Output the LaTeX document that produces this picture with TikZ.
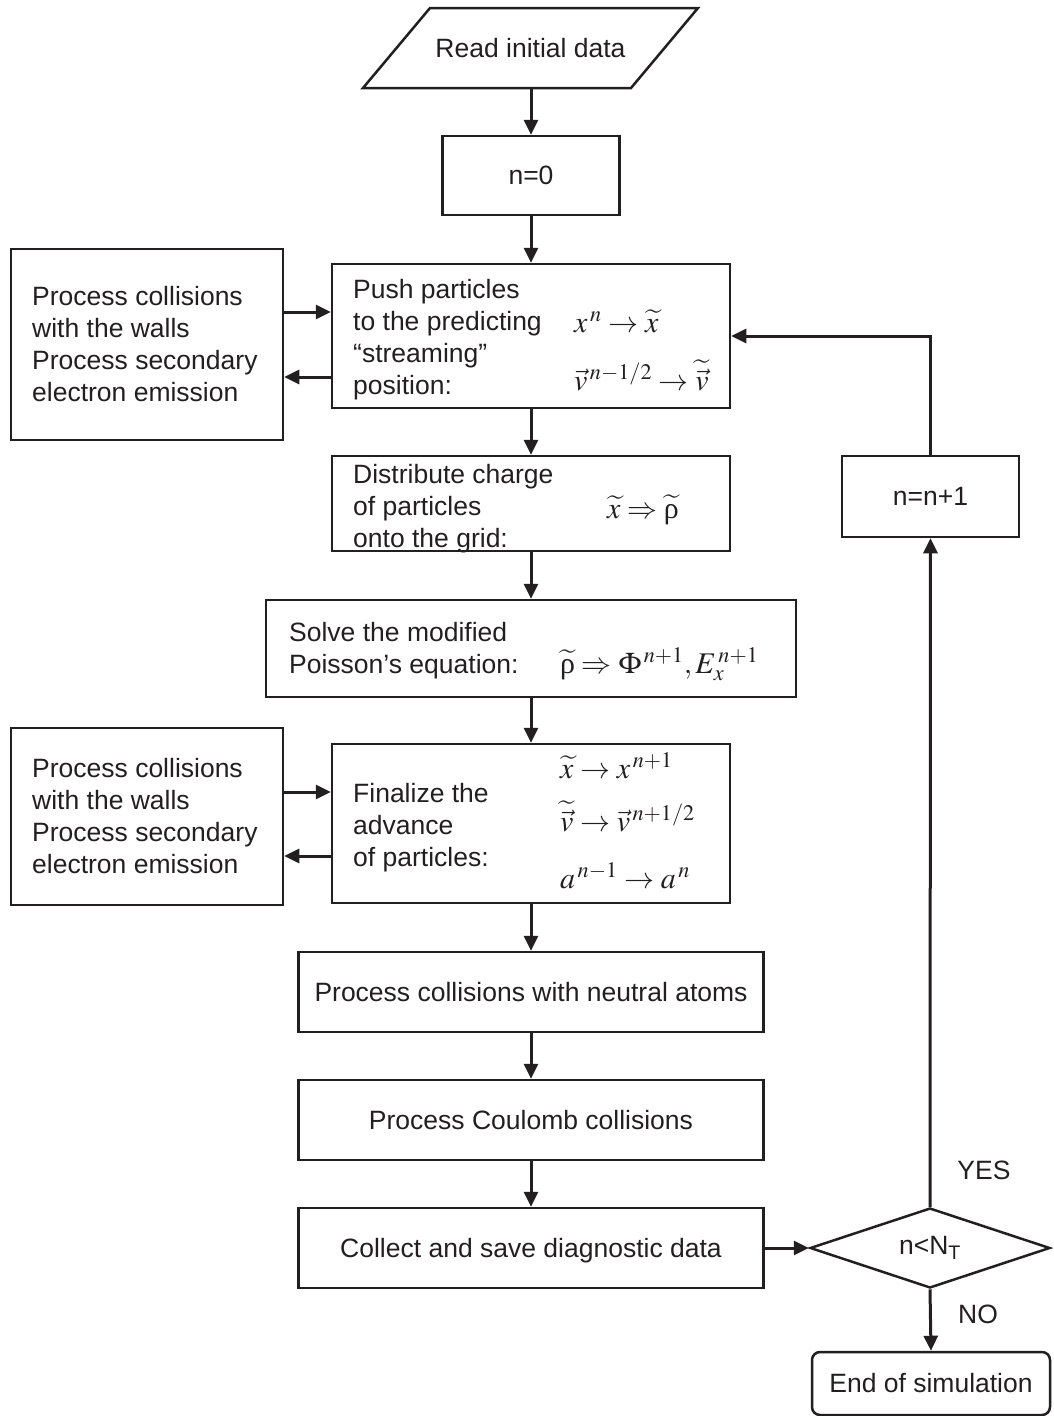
\documentclass[tikz,border=0pt]{standalone}
\usepackage{mathptmx}
\usepackage[no-math]{fontspec}
\setmainfont{Liberation Sans}
\newfontfamily\serifgr{Liberation Serif}
\usetikzlibrary{arrows.meta,shapes.geometric,calc}
\definecolor{ink}{RGB}{35,31,32}

\begin{document}
\begin{tikzpicture}[x=1pt,y=-1pt,
  every node/.style={text=ink},
  boxshape/.style={draw=ink,line width=2.5pt,rectangle,inner sep=0pt,
    font=\fontsize{26.5}{32}\selectfont,text height=18.5pt,text depth=0pt},
  arr/.style={draw=ink,line width=3pt,-{Triangle[length=15pt,width=14pt]}},
  lefttext/.style={anchor=north west,inner sep=0pt,align=left,
    font=\fontsize{26.5}{32}\selectfont},
  mathtext/.style={anchor=base west,inner sep=0pt,
    font=\fontsize{30}{32}\selectfont},
  lbl/.style={inner sep=0pt,font=\fontsize{26.5}{32}\selectfont}]
\useasboundingbox (0,0) rectangle (1053,1416);

% input parallelogram
\draw[draw=ink,line width=2.5pt,line join=miter]
  (430,8) -- (698,8) -- (631,88) -- (363,88) -- cycle;
\node[lbl] (read) at (530.5,48) {Read initial data};
\coordinate (readout) at (531,88);

% main column
\node[boxshape,minimum width=177,minimum height=79] (n0) at (531,175.5) {n=0};
\node[boxshape,minimum width=398,minimum height=144] (push) at (531,336) {};
\node[boxshape,minimum width=398,minimum height=95] (distr) at (531,503.5) {};
\node[boxshape,minimum width=530,minimum height=97] (solve) at (531,648.5) {};
\node[boxshape,minimum width=398,minimum height=159] (final) at (531,823.5) {};
\node[boxshape,minimum width=465,minimum height=80] (neutral) at (531,992) {Process collisions with neutral atoms};
\node[boxshape,minimum width=465,minimum height=80] (coul) at (531,1120) {Process Coulomb collisions};
\node[boxshape,minimum width=465,minimum height=80] (collect) at (531,1248) {Collect and save diagnostic data};

% wall boxes
\node[boxshape,minimum width=272,minimum height=191] (wall1) at (147,344.5) {};
\node[boxshape,minimum width=272,minimum height=177] (wall2) at (147,816.5) {};

% right branch
\node[boxshape,minimum width=177,minimum height=81] (nn1) at (930.5,496.5) {n=n+1};
\node[draw=ink,line width=2.5pt,diamond,aspect=3,inner sep=0pt,
  minimum width=240,minimum height=80,
  font=\fontsize{26.5}{32}\selectfont] (dec) at (930,1248) {n<N\textsubscript{T}};
\node[boxshape,rounded corners=8pt,minimum width=238,minimum height=63] (end) at (931,1383.5) {End of simulation};
\node[lbl] (yes) at (984,1170) {YES};
\node[lbl] (no) at (978,1314) {NO};

% texts inside the boxes
\node[lefttext] (pusht) at (353,279) {\rule{0pt}{19pt}Push particles\\to the predicting\\“streaming”\\position:};
\node[mathtext] (pushm1) at (574,332) {$x^{\,n}\rightarrow\widetilde{x}$};
\node[mathtext] (pushm2) at (574,390) {$\vec{v}^{\,n-1/2}\rightarrow\widetilde{\vec{v}}$};

\node[lefttext] (distrt) at (353,464) {\rule{0pt}{19pt}Distribute charge\\of particles\\onto the grid:};
\node[mathtext] (distrm) at (607,518) {$\widetilde{x}\Rightarrow\widetilde{\hbox{\serifgr ρ}}$};

\node[lefttext] (solvet) at (289,622) {\rule{0pt}{19pt}Solve the modified\\Poisson’s equation:};
\node[mathtext] (solvem) at (560,673) {$\widetilde{\hbox{\serifgr ρ}}\Rightarrow\Phi^{\,n+1},E_{x}^{\,n+1}$};

\node[lefttext] (finalt) at (353,783) {\rule{0pt}{19pt}Finalize the\\advance\\of particles:};
\node[mathtext] (finalm1) at (560,778) {$\widetilde{x}\rightarrow x^{\,n+1}$};
\node[mathtext] (finalm2) at (560,831) {$\widetilde{\vec{v}}\rightarrow\vec{v}^{\,n+1/2}$};
\node[mathtext] (finalm3) at (560,888) {$a^{\,n-1}\rightarrow a^{\,n}$};

\node[lefttext] (wall1t) at (32,286) {\rule{0pt}{19pt}Process collisions\\with the walls\\Process secondary\\electron emission};
\node[lefttext] (wall2t) at (32,758) {\rule{0pt}{19pt}Process collisions\\with the walls\\Process secondary\\electron emission};

% vertical flow
\draw[arr] (readout) -- (n0.north);
\draw[arr] (n0.south) -- (push.north);
\draw[arr] (push.south) -- (distr.north);
\draw[arr] (distr.south) -- (solve.north);
\draw[arr] (solve.south) -- (final.north);
\draw[arr] (final.south) -- (neutral.north);
\draw[arr] (neutral.south) -- (coul.north);
\draw[arr] (coul.south) -- (collect.north);

% exchanges with the wall boxes
\coordinate (p1in) at ($(push.west)+(0,-24)$);
\coordinate (p1out) at ($(push.west)+(0,41)$);
\draw[arr] (wall1.east |- p1in) -- (p1in);
\draw[arr] (p1out) -- (wall1.east |- p1out);
\coordinate (p2in) at ($(final.west)+(0,-31.5)$);
\coordinate (p2out) at ($(final.west)+(0,32.5)$);
\draw[arr] (wall2.east |- p2in) -- (p2in);
\draw[arr] (p2out) -- (wall2.east |- p2out);

% loop and exit
\draw[arr] (collect.east) -- (dec.west);
\draw[arr] (dec.north) -- (nn1.south);
\draw[arr] (nn1.north) |- (push.east);
\draw[arr] (dec.south) -- (end.north);
\end{tikzpicture}
\end{document}
